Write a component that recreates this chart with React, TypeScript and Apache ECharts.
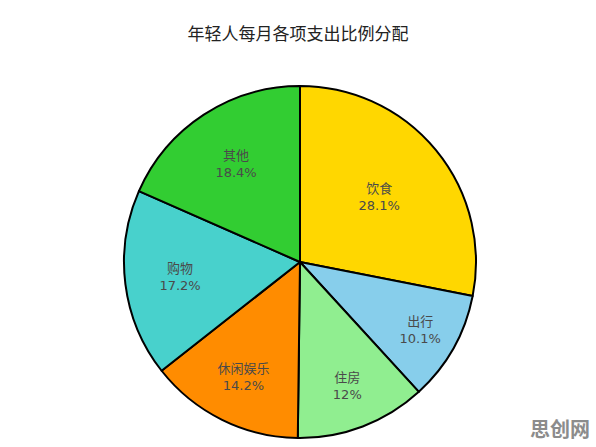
import React, { useEffect, useRef } from "react";
import * as echarts from "echarts";

const categories = ["饮食", "出行", "住房", "休闲娱乐", "购物", "其他"];
const values = [28.1, 10.1, 12, 14.2, 17.2, 18.4];
const percentLabels = ["28.1%", "10.1%", "12%", "14.2%", "17.2%", "18.4%"];
const colors = ["#FFD700", "#87CEEB", "#90EE90", "#FF8C00", "#48D1CC", "#32CD32"];
// relative radius at which each inside label sits (fraction of pie radius)
const labelRadiusFactors = [0.565, 0.766, 0.737, 0.709, 0.67, 0.648];

const CX = 300;
const CY = 262;
const R = 176;

export default function App() {
  const ref = useRef<HTMLDivElement>(null);
  useEffect(() => {
    document.body.style.margin = "0";
    if (!ref.current) return;
    const chart = echarts.init(ref.current, null, { renderer: "svg" });
    const total = values.reduce((a, b) => a + b, 0);
    const midAngles: number[] = [];
    let acc = 0;
    values.forEach((v) => {
      const span = (v / total) * 360;
      midAngles.push(((90 - acc - span / 2) * Math.PI) / 180);
      acc += span;
    });
    chart.setOption({
      animation: false,
      backgroundColor: "#ffffff",
      title: {
        text: "年轻人每月各项支出比例分配",
        left: "center",
        top: 19,
        textStyle: {
          fontFamily: "Noto Sans CJK SC",
          fontSize: 17,
          fontWeight: "normal",
          color: "#222222",
        },
      },
      graphic: [
        {
          type: "text",
          right: 6,
          bottom: 9,
          style: {
            text: "思创网",
            fontFamily: "Noto Sans CJK SC",
            fontSize: 20,
            fontWeight: "bold",
            fill: "#8c8c8c",
          },
        },
      ],
      series: [
        {
          type: "pie",
          center: [CX, CY],
          radius: [0, R],
          startAngle: 90,
          clockwise: true,
          avoidLabelOverlap: false,
          silent: true,
          itemStyle: { borderColor: "#000000", borderWidth: 2 },
          label: {
            show: true,
            position: "inside",
            formatter: (p: any) => `${p.name}\n${percentLabels[p.dataIndex]}`,
            fontFamily: "DejaVu Sans, Noto Sans CJK SC",
            fontSize: 13,
            lineHeight: 17,
            color: "#4a4a4a",
            align: "center",
          },
          labelLine: { show: false },
          labelLayout: (params: any) => {
            const i = params.dataIndex;
            const a = midAngles[i];
            const d = labelRadiusFactors[i] * R - R / 2;
            return { dx: d * Math.cos(a), dy: -d * Math.sin(a) };
          },
          data: categories.map((c, i) => ({
            name: c,
            value: values[i],
            itemStyle: { color: colors[i] },
          })),
        },
      ],
    });
    return () => chart.dispose();
  }, []);
  return <div ref={ref} style={{ width: 596, height: 447 }} />;
}
